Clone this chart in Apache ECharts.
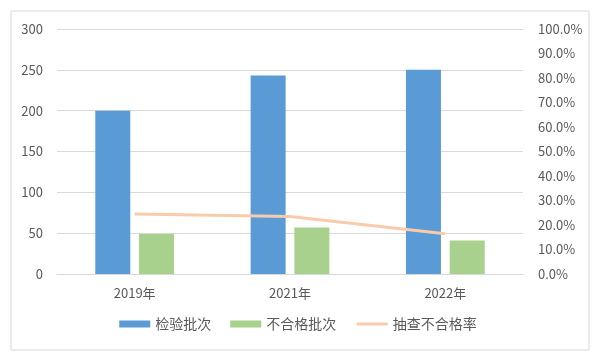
<!DOCTYPE html>
<html><head><meta charset="utf-8">
<script src="https://cdn.jsdelivr.net/npm/echarts@6/dist/echarts.min.js"></script>
<style>html,body{margin:0;padding:0;background:#fff}#c{width:596px;height:358px}</style>
</head><body><div id="c"></div>
<script>
const categories = ['2019年', '2021年', '2022年'];
const inspected = [200, 243, 250];
const unqualified = [49, 57, 41];
const rate = [24.5, 23.5, 16.4];
const leftTicks = [0, 50, 100, 150, 200, 250, 300];
const rightTicks = [0, 10, 20, 30, 40, 50, 60, 70, 80, 90, 100];

const font = '"Noto Sans CJK SC", "Noto Sans", sans-serif';
const chart = echarts.init(document.getElementById('c'));
chart.setOption({
  animation: false,
  textStyle: { fontFamily: font },
  graphic: [{ type: 'rect', shape: { x: 11, y: 11, width: 578, height: 339 }, style: { fill: 'none', stroke: '#d9d9d9', lineWidth: 1 } }],
  grid: { left: 57, right: 73, top: 29, bottom: 84, containLabel: false },
  legend: {
    bottom: 22, left: 'center', itemWidth: 31, itemHeight: 7, itemGap: 19,
    textStyle: { fontSize: 14, color: '#595959', fontFamily: font },
    data: [
      { name: '检验批次', icon: 'rect' },
      { name: '不合格批次', icon: 'rect' },
      { name: '抽查不合格率', itemStyle: { opacity: 0 }, lineStyle: { color: '#f8cbad', width: 3 } }
    ]
  },
  xAxis: {
    type: 'category', data: categories,
    axisLine: { lineStyle: { color: '#d9d9d9' } },
    axisTick: { show: false },
    axisLabel: { color: '#595959', fontSize: 13, margin: 13, fontFamily: font }
  },
  yAxis: [
    {
      type: 'value', min: leftTicks[0], max: leftTicks[leftTicks.length - 1], interval: 50,
      axisLine: { show: false }, axisTick: { show: false },
      splitLine: { lineStyle: { color: '#d9d9d9' } },
      axisLabel: { color: '#595959', fontSize: 13, margin: 14, fontFamily: font }
    },
    {
      type: 'value', min: rightTicks[0], max: rightTicks[rightTicks.length - 1], interval: 10,
      axisLine: { show: false }, axisTick: { show: false }, splitLine: { show: false },
      axisLabel: { color: '#595959', fontSize: 13, margin: 15, fontFamily: font, formatter: v => v.toFixed(1) + '%' }
    }
  ],
  series: [
    { name: '检验批次', type: 'bar', data: inspected, barWidth: 35, barGap: '25%', itemStyle: { color: '#5b9bd5' } },
    { name: '不合格批次', type: 'bar', data: unqualified, barWidth: 35, barGap: '25%', itemStyle: { color: '#a9d18e' } },
    { name: '抽查不合格率', type: 'line', yAxisIndex: 1, data: rate, symbol: 'none', lineStyle: { color: '#f8cbad', width: 3 }, itemStyle: { color: '#f8cbad' } }
  ]
});
</script></body></html>
